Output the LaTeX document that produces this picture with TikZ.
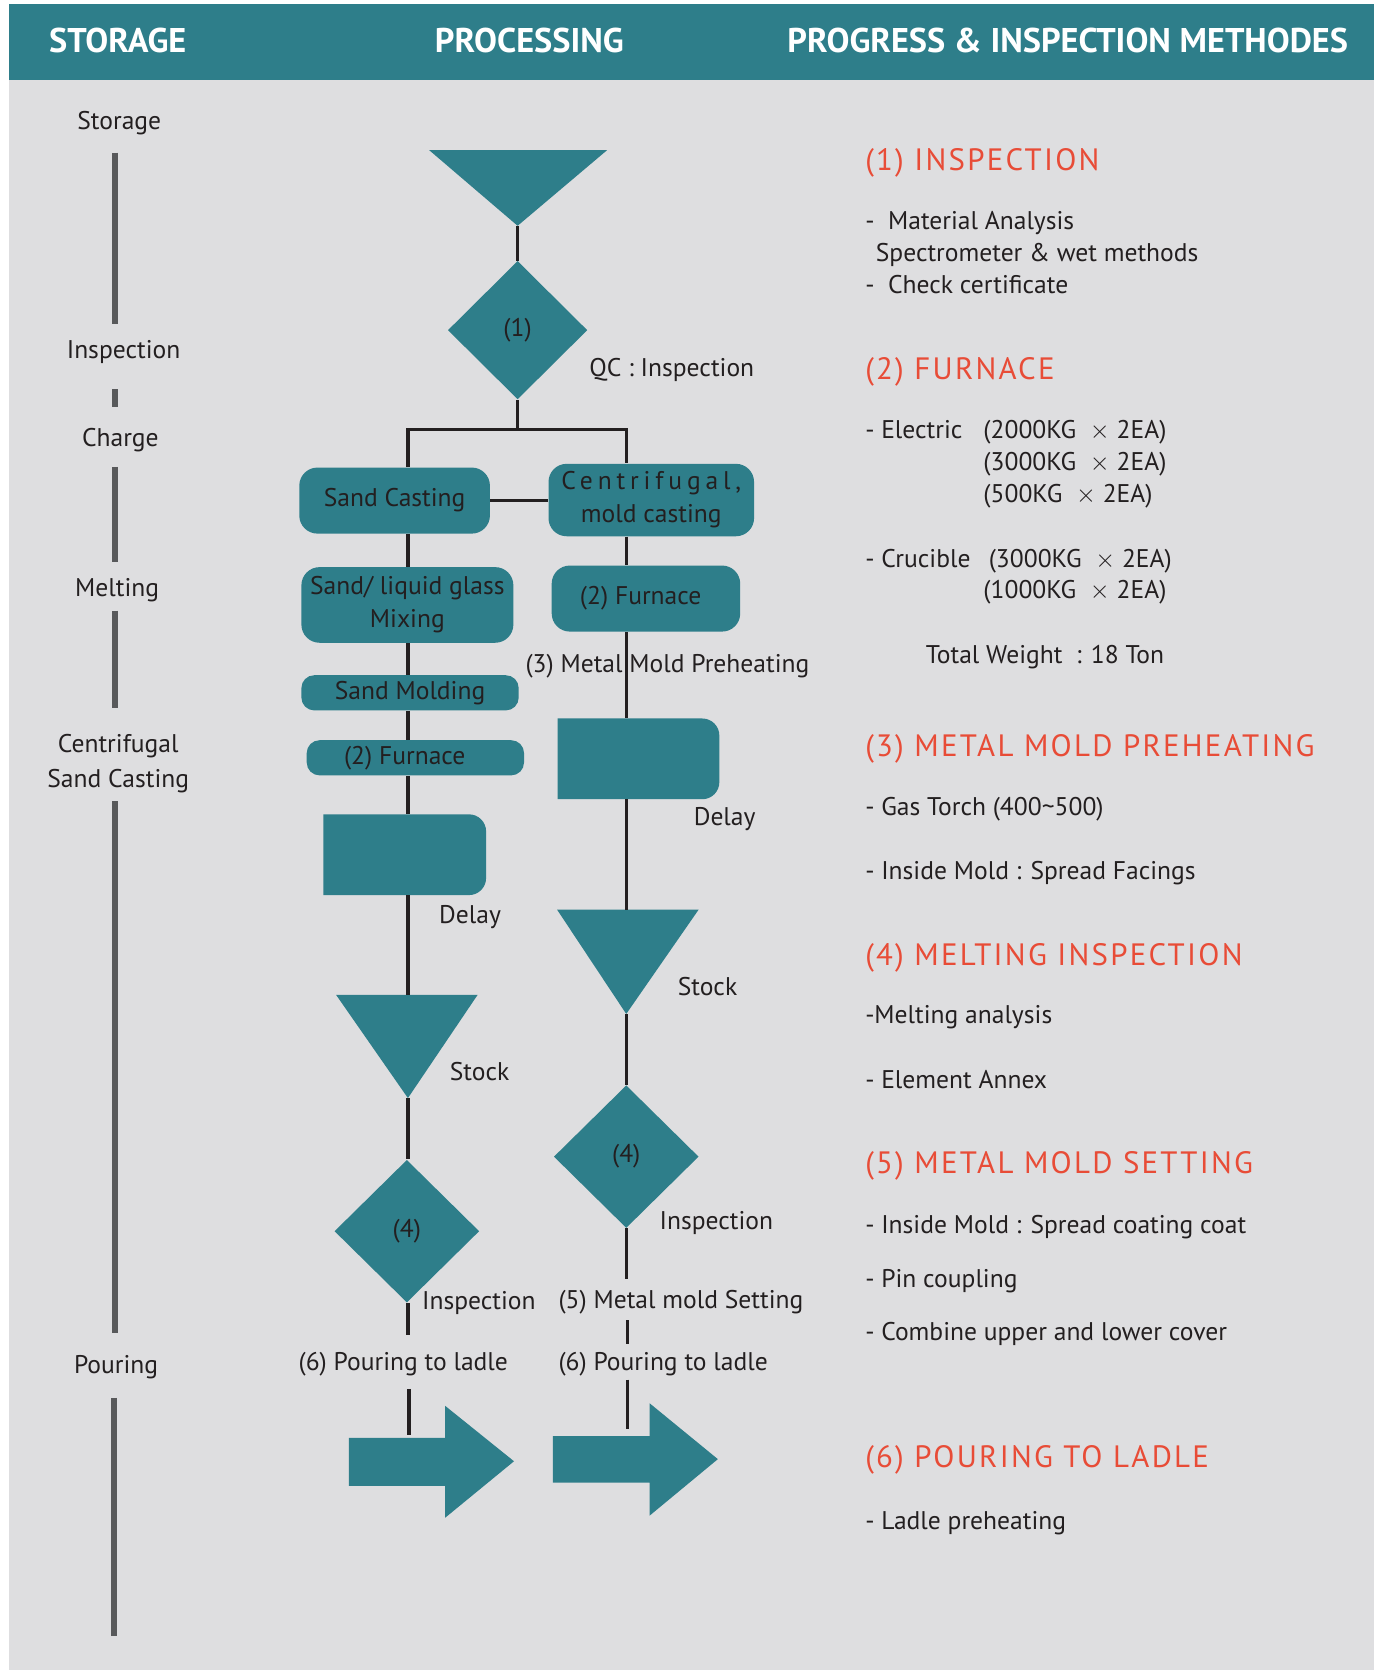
\documentclass[tikz,border=0pt]{standalone}
\usepackage{fontspec}
\setmainfont{PT Sans}
\newfontfamily\spacedfont[LetterSpace=7.3]{PT Sans}
\newfontfamily\widefont[LetterSpace=19]{PT Sans}
\usetikzlibrary{shapes.geometric,calc}
\definecolor{ShapeClr}{RGB}{46,126,138}
\definecolor{PaperClr}{RGB}{222,222,224}
\definecolor{InkClr}{RGB}{35,31,32}
\definecolor{BarClr}{RGB}{88,89,91}
\definecolor{TitleClr}{RGB}{232,76,55}

\tikzset{
  dims/.style 2 args={minimum width=#1*0.5pt,minimum height=#2*0.5pt},
  txt/.style={text=InkClr,font=\fontsize{12}{15}\selectfont,inner sep=0pt,text height=8.4pt,text depth=0pt},
  note/.style={txt,anchor=west},
  title/.style={text=TitleClr,font=\spacedfont\fontsize{14.5}{17}\selectfont,anchor=west,inner sep=0pt,text height=10.2pt,text depth=0pt},
  head/.style={text=white,font=\fontsize{16.1}{18}\selectfont\bfseries,inner sep=0pt},
  procbox/.style={fill=ShapeClr,rounded corners=8.5pt,text=InkClr,font=\fontsize{12}{15.5}\selectfont,align=center,inner sep=0pt},
  decision/.style={diamond,fill=ShapeClr,text=InkClr,font=\fontsize{12}{15}\selectfont,inner sep=0pt},
  flow/.style={draw=InkClr,line width=1.55pt},
  bar/.style={draw=BarClr,line width=2.75pt}
}

\begin{document}
\begin{tikzpicture}[x=0.5pt,y=-0.5pt]
\useasboundingbox (0,0) rectangle (1292,1568);
\fill[white] (0,0) rectangle (1292,1568);
\fill[PaperClr] (8,4) rectangle (1290,1568);
\fill[ShapeClr] (8,4) rectangle (1290,75);

% headers
\node[head] (hStore) at (110.5,38) {STORAGE};
\node[head] (hProc) at (497,38) {PROCESSING};
\node[head] (hMeth) at (1002.5,38) {PROGRESS \& INSPECTION METHODES};

% storage column
\coordinate (barX) at (108,0);
\node[txt] (lStore) at (112,113) {Storage};
\node[txt] (lInsp) at (116,328) {Inspection};
\node[txt] (lCharge) at (113,411) {Charge};
\node[txt] (lMelt) at (110,552) {Melting};
\node[txt] (lCent) at (111,698) {Centrifugal};
\node[txt] (lSand) at (111,731) {Sand Casting};
\node[txt] (lPour) at (109,1281) {Pouring};
\coordinate (lEnd) at (107,1536);

\draw[bar,shorten <=10.8pt,shorten >=7.3pt] (lStore.south -| barX) -- (lInsp.north -| barX);
\draw[bar,shorten <=14.3pt,shorten >=9.8pt] (lInsp.south -| barX) -- (lCharge.north -| barX);
\draw[bar,shorten <=9.3pt,shorten >=7.8pt] (lCharge.south -| barX) -- (lMelt.north -| barX);
\draw[bar,shorten <=6.3pt,shorten >=12.3pt] (lMelt.south -| barX) -- (lCent.north -| barX);
\draw[bar,shorten <=6.3pt,shorten >=10.3pt] (lSand.south -| barX) -- (lPour.north -| barX);
\draw[bar,shorten <=11.3pt] (lPour.south -| lEnd) -- (lEnd);

% processing column
\coordinate (colL) at (383,403);
\coordinate (colR) at (588,403);

\coordinate (tA) at (403,141);
\coordinate (tB) at (570,141);
\coordinate (tC) at (486,212);
\fill[ShapeClr] (tA) -- (tB) -- (tC) -- cycle;

\node[decision,dims={131}{130}] (dia1) at (486,310) {(1)};

\node[procbox,dims={179}{62}] (sandC) at (370.5,470) {Sand Casting};
\node[procbox,dims={193}{68}] (centC) at (611.5,469.5) {{\widefont Centrifugal,}\\mold casting};
\node[procbox,dims={199}{71}] (mixB) at (382.5,568) {Sand/ liquid glass\\Mixing};
\node[procbox,dims={204}{33},rounded corners=6pt] (moldB) at (385,650.5) {Sand Molding};
\node[procbox,dims={204}{33},rounded corners=6pt] (furnL) at (390,711.5) {(2) Furnace\hspace*{10pt}};
\node[procbox,dims={177}{62}] (furnR) at (606.5,562) {\raisebox{-2pt}{(2) Furnace}\hspace*{5pt}};

\node[dims={152}{75},inner sep=0pt] (delayL) at (380,802.5) {};
\fill[ShapeClr] (delayL.south west) -- (delayL.north west) -- ([xshift=-8pt]delayL.north east)
  arc[start angle=90,end angle=0,radius=8pt] -- ([yshift=8pt]delayL.south east)
  arc[start angle=0,end angle=-90,radius=8pt] -- cycle;
\node[dims={151}{75},inner sep=0pt] (delayR) at (599.5,712.5) {};
\fill[ShapeClr] (delayR.south west) -- (delayR.north west) -- ([xshift=-8pt]delayR.north east)
  arc[start angle=90,end angle=0,radius=8pt] -- ([yshift=8pt]delayR.south east)
  arc[start angle=0,end angle=-90,radius=8pt] -- cycle;

\coordinate (sLa) at (315.5,934);
\coordinate (sLb) at (448.5,934);
\coordinate (sLc) at (383,1031);
\fill[ShapeClr] (sLa) -- (sLb) -- (sLc) -- cycle;
\coordinate (sRa) at (523,854);
\coordinate (sRb) at (656,854);
\coordinate (sRc) at (588,952);
\fill[ShapeClr] (sRa) -- (sRb) -- (sRc) -- cycle;

\node[decision,dims={136}{134}] (dia4L) at (382,1156) {(4)};
\node[decision,dims={136}{134}] (dia4R) at (588,1086) {(4)};

\coordinate (arL) at (384,1347);
\fill[ShapeClr] (327.6,1350) -- (418,1350) -- (418,1320) -- (482.6,1372) -- (418,1425) -- (418,1395) -- (327.6,1395) -- cycle;
\coordinate (arR) at (589,1342);
\fill[ShapeClr] (519,1348.5) -- (610,1348.5) -- (610,1317.6) -- (674,1370) -- (610,1423) -- (610,1392) -- (519,1392) -- cycle;

% side labels
\node[note] (qcL) at (553,345) {QC : Inspection};
\node[note] (preL) at (493,623) {(3) Metal Mold Preheating};
\node[note] (dlL) at (412,859) {Delay};
\node[note] (dlR) at (651,767) {Delay};
\node[note] (stL) at (422,1006) {Stock};
\node[note] (stR) at (636,926) {Stock};
\node[note] (inL) at (396,1221) {Inspection};
\node[note] (inR) at (619,1146) {Inspection};
\node[note,inner ysep=5.3pt] (setR) at (524,1220) {(5) Metal mold Setting};
\node[note,inner ysep=8.35pt] (pourL) at (280,1278.6) {(6) Pouring to ladle};
\node[note,inner ysep=4pt] (pourR) at (524,1278.6) {(6) Pouring to ladle};

% connectors
\draw[flow] (tC) -- (dia1.north);
\draw[flow] (dia1.south) -- (dia1.south |- colL);
\draw[flow] (sandC.north -| colL) -- (colL) -- (colR) -- (centC.north -| colR);
\draw[flow] (sandC.east) -- (sandC.east -| centC.west);

\draw[flow] (sandC.south -| colL) -- (mixB.north -| colL);
\draw[flow] (mixB.south -| colL) -- (moldB.north -| colL);
\draw[flow] (moldB.south -| colL) -- (furnL.north -| colL);
\draw[flow] (furnL.south -| colL) -- (delayL.north -| colL);
\draw[flow] (delayL.south -| colL) -- (sLc |- sLa);
\draw[flow] (sLc) -- (dia4L.north -| colL);
\draw[flow] (dia4L.south -| colL) -- (pourL.north -| colL);
\draw[flow] (pourL.south -| arL) -- (arL);

\draw[flow] (centC.south -| colR) -- (furnR.north -| colR);
\draw[flow] (furnR.south -| colR) -- (delayR.north -| colR);
\draw[flow] (delayR.south -| colR) -- (sRc |- sRa);
\draw[flow] (sRc) -- (dia4R.north -| colR);
\draw[flow] (dia4R.south -| colR) -- (setR.north -| colR);
\draw[flow] (setR.south -| arR) -- (pourR.north -| arR);
\draw[flow] (pourR.south -| arR) -- (arR);

% inspection methods
\node[title] (m1) at (812,150) {(1) INSPECTION};
\node[note] (m1a) at (812,207) {-\ \ Material Analysis};
\node[note] (m1b) at (822,237) {Spectrometer \& wet methods};
\node[note] (m1c) at (812,267) {-\ \ Check certificate};
\node[title] (m2) at (812,346) {(2) FURNACE};
\node[note] (m2a) at (812,403) {- Electric};
\node[note] (m2b) at (923,403) {(2000KG\ \ $\times$ 2EA)};
\node[note] (m2c) at (923,433) {(3000KG\ \ $\times$ 2EA)};
\node[note] (m2d) at (923,463) {(500KG\ \ $\times$ 2EA)};
\node[note] (m2e) at (812,524) {- Crucible};
\node[note] (m2f) at (928,524) {(3000KG\ \ $\times$ 2EA)};
\node[note] (m2g) at (923,554) {(1000KG\ \ $\times$ 2EA)};
\node[note] (m2h) at (869,615) {Total Weight\ \ : 18 Ton};
\node[title] (m3) at (812,700) {(3) METAL MOLD PREHEATING};
\node[note] (m3a) at (812,757) {- Gas Torch (400\textasciitilde500)};
\node[note] (m3b) at (812,817) {- Inside Mold : Spread Facings};
\node[title] (m4) at (812,896) {(4) MELTING INSPECTION};
\node[note] (m4a) at (812,953) {-Melting analysis};
\node[note] (m4b) at (812,1014) {- Element Annex};
\node[title] (m5) at (812,1092) {(5) METAL MOLD SETTING};
\node[note] (m5a) at (812,1150) {- Inside Mold : Spread coating coat};
\node[note] (m5b) at (812,1200) {- Pin coupling};
\node[note] (m5c) at (812,1250) {- Combine upper and lower cover};
\node[title] (m6) at (812,1368) {(6) POURING TO LADLE};
\node[note] (m6a) at (812,1428) {- Ladle preheating};

\end{tikzpicture}
\end{document}
